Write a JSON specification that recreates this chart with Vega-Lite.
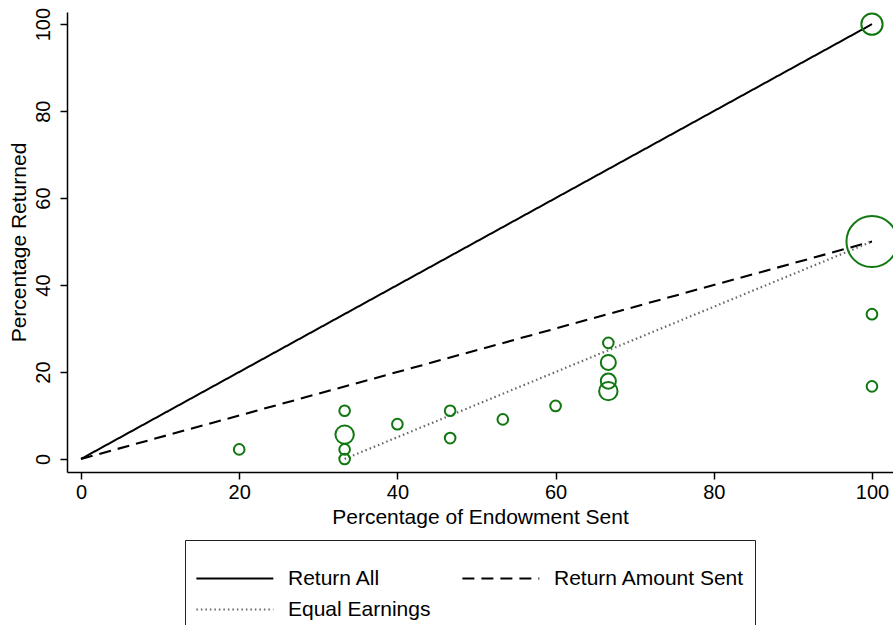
{
  "$schema": "https://vega.github.io/schema/vega-lite/v6.json",
  "autosize": {"type": "none"},
  "width": 826,
  "height": 460,
  "padding": {"left": 67, "top": 12, "right": 0, "bottom": 153},
  "background": "white",
  "config": {
    "view": {"stroke": null},
    "font": "Liberation Sans",
    "axis": {
      "grid": false,
      "domainColor": "black",
      "domainWidth": 1.5,
      "tickColor": "black",
      "tickWidth": 1.5,
      "tickSize": 7,
      "labelColor": "black",
      "titleColor": "black",
      "labelFont": "Liberation Sans",
      "titleFont": "Liberation Sans",
      "labelFontSize": 20,
      "titleFontSize": 21,
      "titleFontWeight": "normal"
    },
    "legend": {
      "labelFont": "Liberation Sans",
      "labelFontSize": 21,
      "labelColor": "black",
      "labelLimit": 400
    }
  },
  "datasets": {
    "lines": [
      {"series": "Return All", "x": 0, "y": 0},
      {"series": "Return All", "x": 100, "y": 100},
      {"series": "Return Amount Sent", "x": 0, "y": 0},
      {"series": "Return Amount Sent", "x": 100, "y": 50},
      {"series": "Equal Earnings", "x": 33.33, "y": 0},
      {"series": "Equal Earnings", "x": 100, "y": 50}
    ],
    "points": [
      {"x": 20, "y": 2.2, "n": 1},
      {"x": 33.33, "y": 11.1, "n": 1},
      {"x": 33.33, "y": 5.6, "n": 3},
      {"x": 33.33, "y": 2.2, "n": 1},
      {"x": 33.33, "y": 0, "n": 1},
      {"x": 40, "y": 8.0, "n": 1},
      {"x": 46.67, "y": 11.1, "n": 1},
      {"x": 46.67, "y": 4.8, "n": 1},
      {"x": 53.33, "y": 9.1, "n": 1},
      {"x": 60, "y": 12.2, "n": 1},
      {"x": 66.67, "y": 26.7, "n": 1},
      {"x": 66.67, "y": 22.2, "n": 2},
      {"x": 66.67, "y": 17.9, "n": 2},
      {"x": 66.67, "y": 15.6, "n": 3},
      {"x": 100, "y": 100, "n": 4},
      {"x": 100, "y": 50, "n": 23},
      {"x": 100, "y": 33.3, "n": 1},
      {"x": 100, "y": 16.7, "n": 1}
    ]
  },
  "layer": [
    {
      "data": {"name": "lines"},
      "mark": {"type": "line", "clip": false},
      "encoding": {
        "x": {
          "field": "x", "type": "quantitative",
          "scale": {"domain": [-1.77, 102.66], "nice": false, "zero": false},
          "axis": {"values": [0, 20, 40, 60, 80, 100], "title": "Percentage of Endowment Sent", "labelPadding": 3, "titlePadding": 4}
        },
        "y": {
          "field": "y", "type": "quantitative",
          "scale": {"domain": [-3, 102.8], "nice": false, "zero": false},
          "axis": {"values": [0, 20, 40, 60, 80, 100], "title": "Percentage Returned", "labelAngle": -90, "labelPadding": 7, "titlePadding": 4}
        },
        "detail": {"field": "series"},
        "strokeDash": {
          "field": "series", "type": "nominal",
          "scale": {"domain": ["Return All", "Return Amount Sent", "Equal Earnings"], "range": [[1, 0], [12, 7], [1.5, 3]]},
          "legend": {
            "title": " ",
            "titleFontSize": 12,
            "titlePadding": 5.5,
            "orient": "none",
            "legendX": 118,
            "legendY": 528,
            "direction": "horizontal",
            "columns": 2,
            "columnPadding": 27,
            "rowPadding": 10,
            "padding": 10,
            "strokeColor": "#222222",
            "fillColor": "white",
            "symbolType": "M-1,0H7",
            "symbolSize": 370,
            "symbolStrokeWidth": 2,
            "labelOffset": 71,
            "labelLimit": 400
          }
        },
        "color": {
          "field": "series", "type": "nominal",
          "scale": {"domain": ["Return All", "Return Amount Sent", "Equal Earnings"], "range": ["black", "black", "#666666"]},
          "legend": {
            "title": " ",
            "titleFontSize": 12,
            "titlePadding": 5.5,
            "orient": "none",
            "legendX": 118,
            "legendY": 528,
            "direction": "horizontal",
            "columns": 2,
            "columnPadding": 27,
            "rowPadding": 10,
            "padding": 10,
            "strokeColor": "#222222",
            "fillColor": "white",
            "symbolType": "M-1,0H7",
            "symbolSize": 370,
            "symbolStrokeWidth": 2,
            "labelOffset": 71,
            "labelLimit": 400
          }
        },
        "strokeWidth": {
          "field": "series", "type": "nominal",
          "scale": {"domain": ["Return All", "Return Amount Sent", "Equal Earnings"], "range": [2, 2.2, 1.3]},
          "legend": null
        }
      }
    },
    {
      "data": {"name": "points"},
      "mark": {"type": "point", "shape": "circle", "filled": false, "stroke": "#117711", "strokeWidth": 2, "opacity": 1, "clip": false},
      "encoding": {
        "x": {"field": "x", "type": "quantitative"},
        "y": {"field": "y", "type": "quantitative"},
        "size": {
          "field": "n", "type": "quantitative",
          "scale": {"type": "linear", "zero": true, "domain": [0, 23], "range": [0, 2600]},
          "legend": null
        }
      }
    }
  ]
}
